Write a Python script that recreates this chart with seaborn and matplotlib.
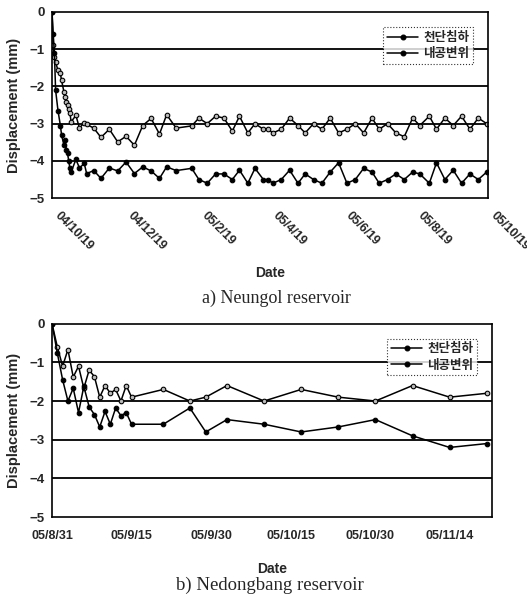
import pandas as pd
import numpy as np
import seaborn as sns
import matplotlib.pyplot as plt
import matplotlib.transforms as mtransforms

sns.set_style("white")
plt.rcParams['font.family'] = ['Liberation Sans', 'Noto Sans CJK KR', 'DejaVu Sans']
plt.rcParams['axes.unicode_minus'] = True

# a) Neungol reservoir - days since 2004-10-19
start_a = "2004-10-19"
days_a = [0, 1, 2, 3, 5, 7, 8, 10, 11, 12, 13, 14, 15, 16,
          20, 23, 27, 29, 35, 41, 48, 55, 62, 69, 76, 83, 90, 96, 104, 117,
          123, 130, 137, 144, 151, 157, 164, 170, 177, 181, 185, 192, 199, 206,
          212, 219, 226, 233, 240, 247, 254, 261, 268, 274, 281, 288, 295, 302,
          308, 316, 322, 329, 336, 343, 350, 357, 364]
crown_a = [0, -0.9, -1.2, -1.35, -1.57, -1.65, -1.84, -2.15, -2.28, -2.42, -2.5, -2.6, -2.72, -2.95,
           -2.78, -3.12, -2.97, -3.02, -3.12, -3.37, -3.15, -3.49, -3.34, -3.58, -3.05, -2.86, -3.28, -2.76, -3.12, -3.06,
           -2.85, -3.0, -2.8, -2.85, -3.2, -2.8, -3.25, -3.0, -3.15, -3.15, -3.25, -3.15, -2.85, -3.05,
           -3.25, -3.0, -3.15, -2.85, -3.25, -3.15, -3.0, -3.25, -2.85, -3.15, -3.0, -3.25, -3.35, -2.85,
           -3.05, -2.8, -3.15, -2.85, -3.05, -2.8, -3.15, -2.85, -3.0]
conv_a = [0, -0.6, -1.1, -2.1, -2.65, -3.05, -3.3, -3.58, -3.45, -3.7, -3.8, -4.0, -4.2, -4.3,
          -3.96, -4.19, -4.07, -4.34, -4.26, -4.47, -4.19, -4.27, -4.03, -4.34, -4.16, -4.27, -4.47, -4.16, -4.26, -4.2,
          -4.5, -4.6, -4.35, -4.35, -4.5, -4.25, -4.6, -4.2, -4.5, -4.5, -4.6, -4.5, -4.25, -4.6,
          -4.35, -4.5, -4.6, -4.3, -4.05, -4.6, -4.5, -4.2, -4.3, -4.6, -4.5, -4.35, -4.5, -4.3,
          -4.35, -4.6, -4.05, -4.5, -4.25, -4.6, -4.35, -4.5, -4.3]
ticks_a = ["2004-10-19", "2004-12-19", "2005-02-19", "2005-04-19", "2005-06-19", "2005-08-19", "2005-10-19"]
ticklabels_a = ["04/10/19", "04/12/19", "05/2/19", "05/4/19", "05/6/19", "05/8/19", "05/10/19"]

# b) Nedongbang reservoir - days since 2005-08-31
start_b = "2005-08-31"
days_b = [0, 1, 2, 3, 4, 5, 6, 7, 8, 9, 10, 11, 12, 13, 14, 15, 21, 26, 29, 33, 40, 47, 54, 61, 68, 75, 82]
crown_b = [0, -0.6, -1.1, -0.67, -1.38, -1.1, -1.67, -1.2, -1.37, -1.9, -1.6, -1.8, -1.7, -2.0, -1.6, -1.9,
           -1.7, -2.0, -1.9, -1.6, -2.0, -1.7, -1.9, -2.0, -1.6, -1.9, -1.8]
conv_b = [0, -0.76, -1.45, -2.0, -1.67, -2.3, -1.62, -2.15, -2.35, -2.67, -2.27, -2.6, -2.18, -2.38, -2.3, -2.6,
          -2.6, -2.18, -2.8, -2.48, -2.6, -2.8, -2.67, -2.48, -2.9, -3.2, -3.1]
ticks_b = ["2005-08-31", "2005-09-15", "2005-09-30", "2005-10-15", "2005-10-30", "2005-11-14"]
ticklabels_b = ["05/8/31", "05/9/15", "05/9/30", "05/10/15", "05/10/30", "05/11/14"]

labels = ["천단침하", "내공변위"]


def make_df(start, days, s1, s2):
    d = pd.to_datetime(start) + pd.to_timedelta(days, unit="D")
    return pd.DataFrame({"date": d, "crown": s1, "conv": s2})


def draw(ax, df, xlim, ticks, ticklabels, rotate, legend_pos, date_y):
    sns.lineplot(data=df, x="date", y="crown", ax=ax, color="black", lw=1.1,
                 marker="o", markersize=3.3, markerfacecolor="#bbbbbb",
                 markeredgecolor="black", markeredgewidth=0.8,
                 estimator=None, sort=False, label=labels[0])
    sns.lineplot(data=df, x="date", y="conv", ax=ax, color="black", lw=1.1,
                 marker="o", markersize=3.3, markerfacecolor="black",
                 markeredgecolor="black", markeredgewidth=0.8,
                 estimator=None, sort=False, label=labels[1])
    ax.set_xlim(pd.to_datetime(xlim[0]), pd.to_datetime(xlim[1]))
    ax.set_ylim(-5, 0)
    ax.set_yticks([0, -1, -2, -3, -4, -5])
    ax.set_yticklabels(["0", "\u22121", "\u22122", "\u22123", "\u22124", "\u22125"],
                       fontsize=9.5, fontweight="bold")
    for yv in [-1, -2, -3, -4]:
        ax.axhline(yv, color="black", lw=1.3, zorder=0)
    ax.set_xticks(pd.to_datetime(ticks))
    if rotate:
        ax.set_xticklabels(ticklabels, rotation=-45, ha="left", va="center",
                           rotation_mode="anchor", fontsize=9, fontweight="bold")
        ax.tick_params(axis="x", length=0, pad=11)
        shift = mtransforms.ScaledTranslation(0.05, 0, ax.figure.dpi_scale_trans)
        for lab in ax.get_xticklabels():
            lab.set_transform(lab.get_transform() + shift)
    else:
        ax.set_xticklabels(ticklabels, fontsize=9, fontweight="bold")
        ax.tick_params(axis="x", length=0, pad=9)
    ax.tick_params(axis="y", length=0, pad=5)
    for s in ax.spines.values():
        s.set_color("black")
        s.set_linewidth(1.2)
    ax.set_ylabel("Displacement (mm)", fontsize=10.5, fontweight="bold", labelpad=6)
    ax.set_xlabel("Date", fontsize=10, fontweight="bold")
    ax.xaxis.set_label_coords(0.5, date_y)
    ax.xaxis.label.set_va("center")
    leg = ax.legend(loc="upper right", bbox_to_anchor=legend_pos, frameon=True, fancybox=False,
                    handlelength=2.5, borderpad=0.3, labelspacing=0.25,
                    handletextpad=0.4, prop={"family": ["Noto Sans CJK KR"], "weight": "bold", "size": 9})
    leg.get_frame().set_edgecolor("black")
    leg.get_frame().set_linestyle(":")
    leg.get_frame().set_linewidth(0.8)
    for h in leg.legend_handles:
        h.set_markerfacecolor("black")
        h.set_markersize(3.5)


fig = plt.figure(figsize=(5.27, 5.95), dpi=100)
ax1 = fig.add_axes([0.0987, 0.667, 0.827, 0.313])
ax2 = fig.add_axes([0.0987, 0.131, 0.835, 0.325])

draw(ax1, make_df(start_a, days_a, crown_a, conv_a), ("2004-10-19", "2005-10-19"),
     ticks_a, ticklabels_a, True, (0.98, 0.95), (198 - 273) / 186)
draw(ax2, make_df(start_b, days_b, crown_b, conv_b), ("2005-08-31", "2005-11-22"),
     ticks_b, ticklabels_b, False, (0.98, 0.955), (517 - 569) / 193)

fig.text(0.525, 1 - 298 / 595, "a) Neungol reservoir", ha="center", va="center",
         family="Liberation Serif", fontsize=13)
fig.text(0.513, 1 - 585 / 595, "b) Nedongbang reservoir", ha="center", va="center",
         family="Liberation Serif", fontsize=13.5)

fig.savefig("out.png", dpi=100)
